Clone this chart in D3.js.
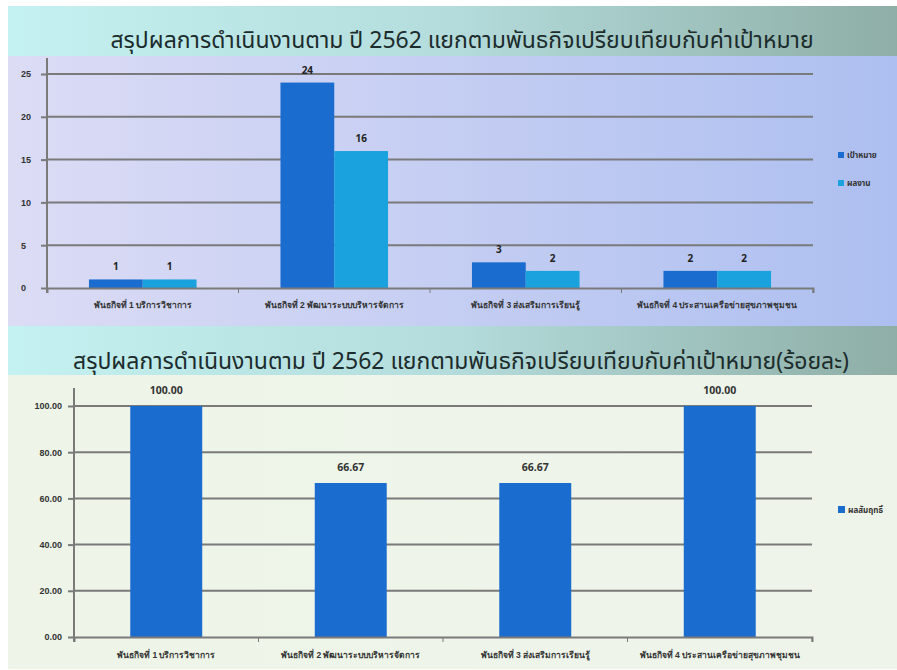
<!DOCTYPE html>
<html><head><meta charset="utf-8">
<script src="https://cdn.jsdelivr.net/npm/d3@7"></script>
<style>
body{margin:0;background:#fff;}
svg{display:block;font-family:Tahoma,"Noto Sans Thai","Noto Sans","DejaVu Sans",sans-serif;}
</style></head><body>
<svg id="c" width="897" height="670"></svg>
<script>
const categories = ["พันธกิจที่ 1 บริการวิชาการ","พันธกิจที่ 2 พัฒนาระบบบริหารจัดการ","พันธกิจที่ 3 ส่งเสริมการเรียนรู้","พันธกิจที่ 4 ประสานเครือข่ายสุขภาพชุมชน"];
const seriesNames = ["เป้าหมาย","ผลงาน"];
const targetValues = [1,24,3,2];
const resultValues = [1,16,2,2];
const percentName = "ผลสัมฤทธิ์";
const percentValues = [100.00,66.67,66.67,100.00];
const topTicks = [0,5,10,15,20,25];
const bottomTicks = [0,20,40,60,80,100];
const title1 = "สรุปผลการดำเนินงานตาม ปี 2562 แยกตามพันธกิจเปรียบเทียบกับค่าเป้าหมาย";
const title2 = "สรุปผลการดำเนินงานตาม ปี 2562 แยกตามพันธกิจเปรียบเทียบกับค่าเป้าหมาย(ร้อยละ)";

const svg = d3.select("#c");
const defs = svg.append("defs");
function lg(id, stops){
  const g = defs.append("linearGradient").attr("id",id).attr("x1","0").attr("x2","1").attr("y1","0").attr("y2","0");
  stops.forEach(s=>g.append("stop").attr("offset",s[0]).attr("stop-color",s[1]));
}
lg("band",[[0,"#c4f1f1"],[0.5,"#b4dcdc"],[1,"#8eaea6"]]);
lg("lav",[[0,"#dcdcf5"],[1,"#adbff0"]]);
lg("mint",[[0,"#eef5e8"],[1,"#eef4ea"]]);

const colors = ["#1a6ccf","#19a2de"];

// ---------- top panel ----------
svg.append("rect").attr("x",8).attr("y",6).attr("width",889).attr("height",320).attr("fill","url(#lav)");
svg.append("rect").attr("x",8).attr("y",6).attr("width",889).attr("height",50).attr("fill","url(#band)");
svg.append("text").attr("x",462).attr("y",48).attr("text-anchor","middle").attr("font-size",23).attr("fill","#1c2c2c").text(title1);

const x1 = d3.scaleBand().domain(categories).range([47,813]);
const y1 = d3.scaleLinear().domain([0,25]).range([288,74]);
const sub = d3.scaleBand().domain(seriesNames).range([0,x1.bandwidth()]).paddingOuter(0.78).paddingInner(0);
// gridlines
svg.append("g").selectAll("line").data(topTicks.filter(d=>d>0)).join("line")
  .attr("x1",47).attr("x2",813).attr("y1",d=>y1(d)).attr("y2",d=>y1(d)).attr("stroke","#7a7a7a").attr("stroke-width",2);
const topData = categories.map((c,i)=>({c, vals:[targetValues[i],resultValues[i]]}));
const g1 = svg.append("g");
topData.forEach(d=>{
  d.vals.forEach((v,j)=>{
    const xx = x1(d.c)+sub(seriesNames[j]);
    g1.append("rect").attr("x",xx).attr("y",y1(v)).attr("width",sub.bandwidth()).attr("height",y1(0)-y1(v)).attr("fill",colors[j]);
    g1.append("text").attr("x",xx+sub.bandwidth()/2).attr("y",y1(v)-9).attr("text-anchor","middle").attr("font-size",10).attr("font-weight","bold").attr("fill","#222").text(v);
  });
});
const ax1 = svg.append("g").attr("transform","translate(0,288)").call(d3.axisBottom(x1).tickSize(5).tickSizeOuter(5));
ax1.select(".domain").attr("stroke","#7a7a7a").attr("stroke-width",2);
ax1.selectAll(".tick line").attr("stroke","#7a7a7a").attr("transform",`translate(${-x1.bandwidth()/2},0)`);
ax1.selectAll(".tick text").attr("font-family",null).attr("font-size",8.5).attr("font-weight","bold").attr("fill","#333").attr("dy","1.4em");
svg.append("line").attr("x1",813).attr("x2",813).attr("y1",288).attr("y2",293).attr("stroke","#7a7a7a");
const ay1 = svg.append("g").attr("transform","translate(47,0)").call(d3.axisLeft(y1).tickValues(topTicks).tickSize(6).tickSizeOuter(0));
ay1.select(".domain").attr("stroke","#7a7a7a").attr("stroke-width",2).attr("d","M0,58V293");
ay1.selectAll(".tick line").attr("stroke","#7a7a7a").attr("stroke-width",2);
ay1.selectAll(".tick text").attr("font-family",null).attr("font-size",9).attr("font-weight","bold").attr("fill","#333").attr("x",-26).attr("text-anchor","start");
// legend
const leg1 = svg.append("g");
seriesNames.forEach((s,i)=>{
  leg1.append("rect").attr("x",838).attr("y",152+i*28).attr("width",6).attr("height",6).attr("fill",colors[i]);
  leg1.append("text").attr("x",847).attr("y",158+i*28).attr("font-size",8).attr("font-weight","bold").attr("fill","#333").text(s);
});

// ---------- bottom panel ----------
svg.append("rect").attr("x",8).attr("y",326).attr("width",889).attr("height",343).attr("fill","url(#mint)");
svg.append("rect").attr("x",8).attr("y",326).attr("width",889).attr("height",49).attr("fill","url(#band)");
svg.append("text").attr("x",461).attr("y",369).attr("text-anchor","middle").attr("font-size",23).attr("fill","#1c2c2c").text(title2);

const x2 = d3.scaleBand().domain(categories).range([74,812]).paddingInner(0.61).paddingOuter(0.305);
const y2 = d3.scaleLinear().domain([0,100]).range([637,406]);
svg.append("g").selectAll("line").data(bottomTicks.filter(d=>d>0)).join("line")
  .attr("x1",74).attr("x2",812).attr("y1",d=>y2(d)).attr("y2",d=>y2(d)).attr("stroke","#7a7a7a").attr("stroke-width",2);
const g2 = svg.append("g");
g2.selectAll("rect").data(percentValues).join("rect")
  .attr("x",(d,i)=>x2(categories[i])).attr("y",d=>y2(d)).attr("width",x2.bandwidth()).attr("height",d=>y2(0)-y2(d)).attr("fill","#1a6ccf");
g2.selectAll("text").data(percentValues).join("text")
  .attr("x",(d,i)=>x2(categories[i])+x2.bandwidth()/2).attr("y",d=>y2(d)-12).attr("text-anchor","middle")
  .attr("font-size",10.5).attr("font-weight","bold").attr("fill","#333").text(d=>d.toFixed(2));
const xb = d3.scaleBand().domain(categories).range([74,812]);
const ax2 = svg.append("g").attr("transform","translate(0,637)").call(d3.axisBottom(xb).tickSize(5).tickSizeOuter(5));
ax2.select(".domain").attr("stroke","#7a7a7a").attr("stroke-width",2);
ax2.selectAll(".tick line").attr("stroke","#7a7a7a").attr("transform",`translate(${-xb.bandwidth()/2},0)`);
ax2.selectAll(".tick text").attr("font-family",null).attr("font-size",8.5).attr("font-weight","bold").attr("fill","#333").attr("dy","1.5em");
svg.append("line").attr("x1",812).attr("x2",812).attr("y1",637).attr("y2",642).attr("stroke","#7a7a7a");
const ay2 = svg.append("g").attr("transform","translate(74,0)").call(d3.axisLeft(y2).tickValues(bottomTicks).tickSize(6).tickSizeOuter(0).tickFormat(d=>d.toFixed(2)));
ay2.select(".domain").attr("stroke","#7a7a7a").attr("stroke-width",2).attr("d","M0,388V642");
ay2.selectAll(".tick line").attr("stroke","#7a7a7a").attr("stroke-width",2);
ay2.selectAll(".tick text").attr("font-family",null).attr("font-size",9).attr("font-weight","bold").attr("fill","#333").attr("x",-12);
svg.append("rect").attr("x",838).attr("y",506).attr("width",7).attr("height",7).attr("fill","#1a6ccf");
svg.append("text").attr("x",848).attr("y",513).attr("font-size",8).attr("font-weight","bold").attr("fill","#333").text(percentName);
</script>
</body></html>
